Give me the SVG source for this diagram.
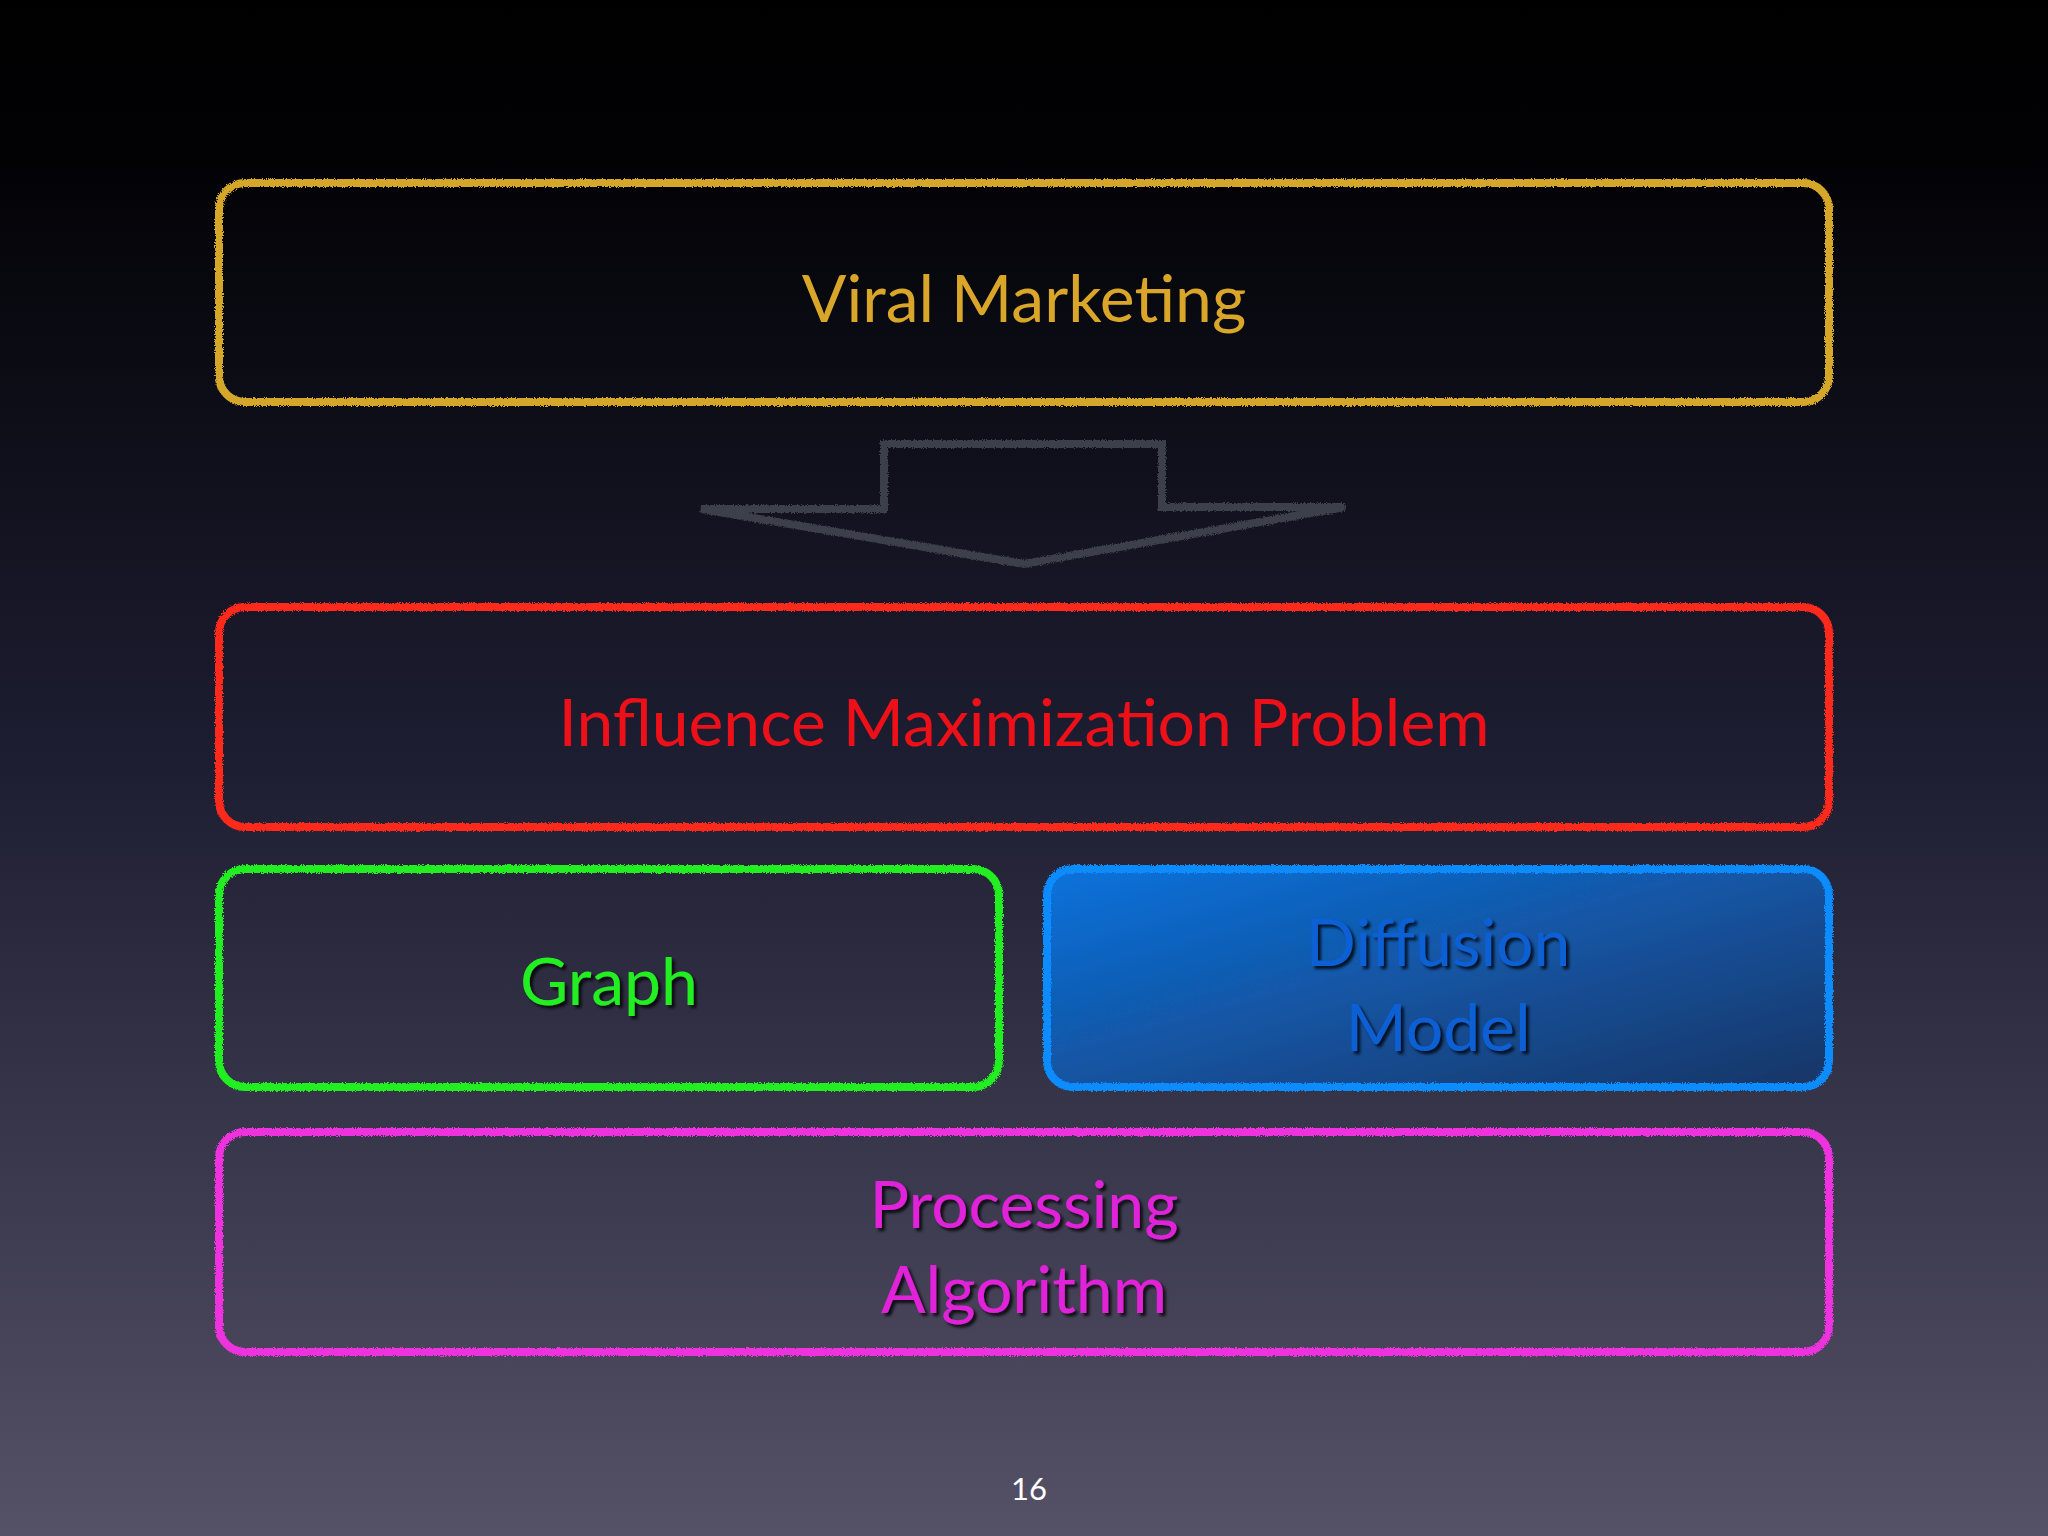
<svg xmlns="http://www.w3.org/2000/svg" width="2048" height="1536" viewBox="0 0 2048 1536">
<defs>
<linearGradient id="bg" x1="0" y1="0" x2="0" y2="1">
<stop offset="0" stop-color="#000000"/><stop offset="0.1" stop-color="#020205"/><stop offset="0.5" stop-color="#1e1e33"/><stop offset="1" stop-color="#555166"/>
</linearGradient>
<linearGradient id="blue" x1="0" y1="0" x2="1" y2="1">
<stop offset="0" stop-color="#0c72dc"/><stop offset="1" stop-color="#1a3565"/>
</linearGradient>
<filter id="chalk" x="-5%" y="-5%" width="110%" height="110%">
<feTurbulence type="fractalNoise" baseFrequency="0.9" numOctaves="2" seed="3"/>
<feDisplacementMap in="SourceGraphic" scale="4"/>
</filter>
<filter id="sh" x="-10%" y="-10%" width="120%" height="130%">
<feDropShadow dx="3" dy="3" stdDeviation="1.5" flood-color="#000" flood-opacity="0.8"/>
</filter>
</defs>
<style>
.box{stroke-width:8;filter:url(#chalk)}
.t{font-family:"Lato","Open Sans",sans-serif;font-size:66px;text-anchor:middle}
</style>
<rect width="2048" height="1536" fill="url(#bg)"/>
<g id="viral">
<rect class="box" x="219" y="183" width="1610" height="219" rx="26" fill="none" stroke="#d4a72c"/>
<text class="t" x="1024" y="322" fill="#d9a62a">Viral Marketing</text>
</g>
<g id="connectors">
<polygon points="884,444 1162,444 1162,507 1345,507 1024,564 701,509 884,509" fill="none" stroke="#3c414c" stroke-width="8" filter="url(#chalk)"/>
</g>
<g id="influence">
<rect class="box" x="219" y="607" width="1610" height="220" rx="26" fill="none" stroke="#ff2a1a"/>
<text class="t" x="1024" y="746" fill="#ee1018">Influence Maximization Problem</text>
</g>
<g id="graph">
<rect class="box" x="219" y="869" width="780" height="218" rx="26" fill="none" stroke="#22ee22"/>
<text class="t" x="609" y="1005" fill="#22ee22" filter="url(#sh)">Graph</text>
</g>
<g id="diffusion">
<rect class="box" x="1047" y="869" width="782" height="218" rx="26" fill="url(#blue)" stroke="#0a8cff"/>
<text class="t" x="1438" y="966" fill="#0a5fd4" filter="url(#sh)">Diffusion</text>
<text class="t" x="1438" y="1051" fill="#0a5fd4" filter="url(#sh)">Model</text>
</g>
<g id="processing">
<rect class="box" x="219" y="1132" width="1610" height="220" rx="26" fill="none" stroke="#ee33dd"/>
<text class="t" x="1024" y="1228" fill="#e020d8" filter="url(#sh)">Processing</text>
<text class="t" x="1024" y="1313" fill="#e020d8" filter="url(#sh)">Algorithm</text>
</g>
<text x="1029" y="1500" font-family="Lato,'Open Sans',sans-serif" font-size="31" fill="#ffffff" text-anchor="middle">16</text>
</svg>
